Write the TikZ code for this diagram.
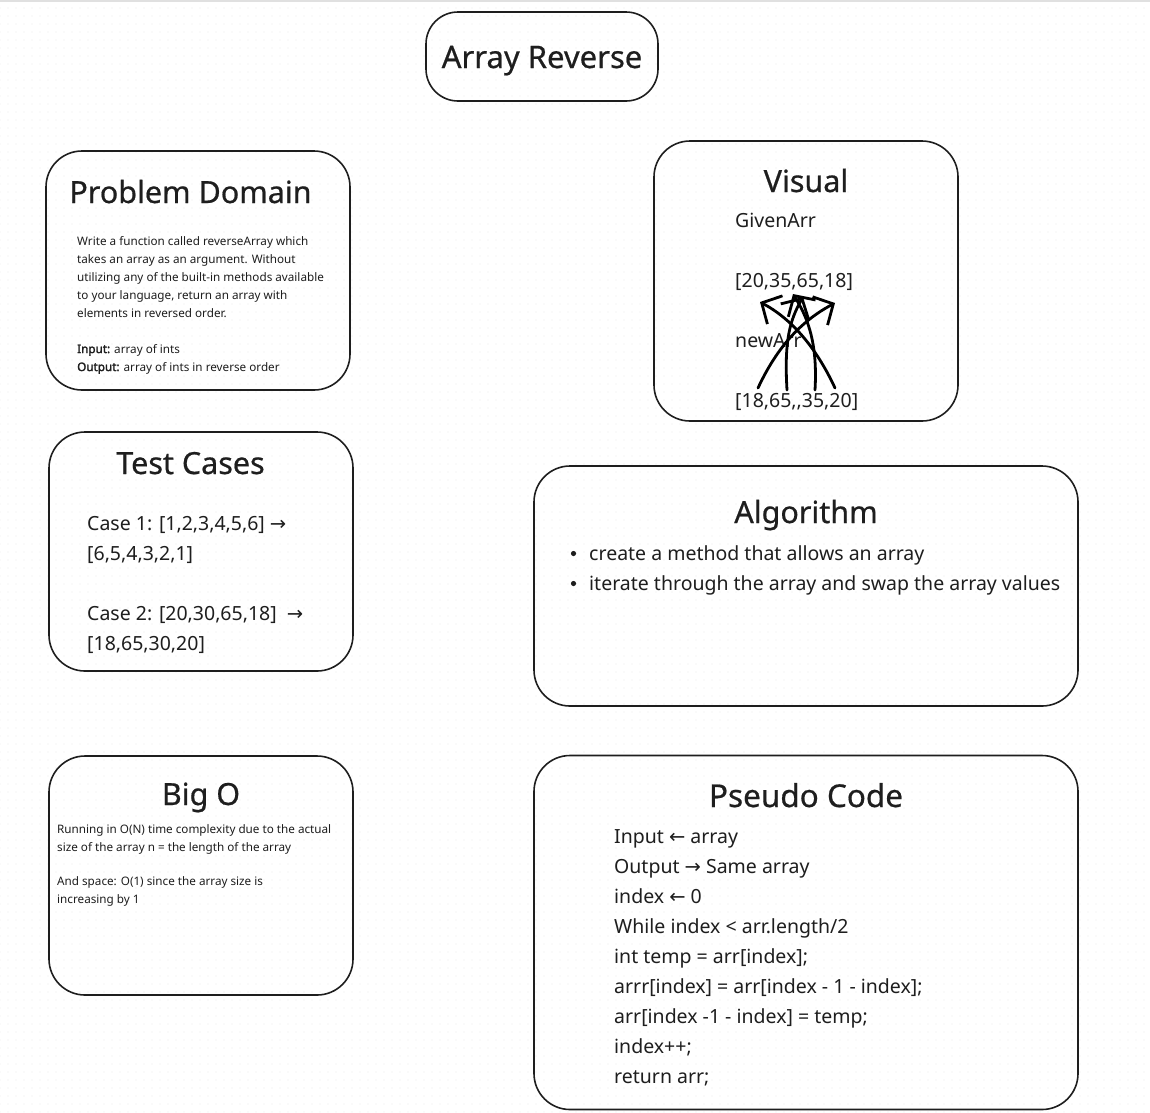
\documentclass[tikz,border=0pt]{standalone}
\usepackage{fontspec}
\setmainfont{Noto Sans}[AutoFakeBold=2.2]
\newfontfamily\arrfont{DejaVu Sans}
\usetikzlibrary{arrows.meta,patterns.meta}
\definecolor{ink}{HTML}{1E1E1E}
\newcommand{\ra}{{\arrfont\char"2192}}
\newcommand{\la}{{\arrfont\char"2190}}
\begin{document}
\begin{tikzpicture}[x=1pt,y=-1pt,
  box/.style={draw=ink, line width=1.6pt, rounded corners=36pt, inner sep=0pt, outer sep=0pt},
  ttl/.style={anchor=base, inner sep=0pt, text=ink, font=\fontsize{30.5}{36}\selectfont\addfontfeature{FakeBold=0.6}},
  bodytxt/.style={anchor=base west, inner sep=0pt, text=ink, font=\fontsize{19.5}{24}\selectfont},
  smalltxt/.style={anchor=base west, inner sep=0pt, text=ink, font=\fontsize{11.7}{14}\selectfont},
  swap/.style={draw=black, line width=2.8pt, line cap=round, -{Straight Barb[length=15pt,width=32pt,line width=2.8pt]}}
]
\useasboundingbox (0,0) rectangle (1150,1112);
\fill[white] (0,0) rectangle (1150,1112);
\fill[pattern={Dots[distance=8pt,radius=0.65pt]}, pattern color=black!7] (0,0) rectangle (1150,1112);
\draw[black!12, line width=1.5pt] (0,1) -- (1150,1);

% boxes
\node[box, rounded corners=32pt, minimum width=232pt, minimum height=89pt] (title) at (542,56.5) {};
\node[box, minimum width=304pt, minimum height=239pt] (pd) at (198,270.5) {};
\node[box, minimum width=304pt, minimum height=239pt] (tc) at (201,551.5) {};
\node[box, minimum width=304pt, minimum height=239pt] (bigo) at (201,875.5) {};
\node[box, minimum width=304pt, minimum height=280pt] (vis) at (806,281) {};
\node[box, minimum width=544pt, minimum height=240pt] (algo) at (806,586) {};
\node[box, minimum width=544pt, minimum height=354pt] (pseudo) at (806,932.5) {};

% titles
\node[ttl, font=\fontsize{31}{36}\selectfont\addfontfeature{FakeBold=0.6}] (titletext) at (542,68) {Array Reverse};
\node[ttl] (pdt) at (190.5,203) {Problem Domain};
\node[ttl] (tct) at (190.5,474) {Test Cases};
\node[ttl] (bigot) at (201,805) {Big O};
\node[ttl] (vist) at (806,192) {Visual};
\node[ttl] (algot) at (806,523) {Algorithm};
\node[ttl, font=\fontsize{31.5}{36}\selectfont\addfontfeature{FakeBold=0.6}] (pseudot) at (806,807) {Pseudo Code};

% problem domain
\node[smalltxt] (pd1) at (77,245) {Write a function called reverseArray which};
\node[smalltxt] (pd2) at (77,263) {takes an array as an argument. Without};
\node[smalltxt] (pd3) at (77,281) {utilizing any of the built-in methods available};
\node[smalltxt] (pd4) at (77,299) {to your language, return an array with};
\node[smalltxt] (pd5) at (77,317) {elements in reversed order.};
\node[smalltxt] (pd6) at (77,353) {\textbf{Input:} array of ints};
\node[smalltxt] (pd7) at (77,371) {\textbf{Output:} array of ints in reverse order};

% test cases
\node[bodytxt] (tc1) at (87,530) {Case 1: [1,2,3,4,5,6] \ra};
\node[bodytxt] (tc2) at (87,560) {[6,5,4,3,2,1]};
\node[bodytxt] (tc3) at (87,620) {Case 2: [20,30,65,18]\ \ \ra};
\node[bodytxt] (tc4) at (87,650) {[18,65,30,20]};

% big O
\node[smalltxt] (bo1) at (57,833) {Running in O(N) time complexity due to the actual};
\node[smalltxt] (bo2) at (57,851) {size of the array n = the length of the array};
\node[smalltxt] (bo3) at (57,885) {And space: O(1) since the array size is};
\node[smalltxt] (bo4) at (57,903) {increasing by 1};

% visual
\node[bodytxt] (given) at (735,227) {GivenArr};
\node[bodytxt] (garr) at (735,287) {[20,35,65,18]};
\node[bodytxt] (newa) at (735,347) {newArr};
\node[bodytxt] (narr) at (735,407) {[18,65,{},35,20]};

% algorithm
\fill[ink] (573.5,553.5) circle (2.6pt);
\fill[ink] (573.5,583.5) circle (2.6pt);
\node[bodytxt] (al1) at (589,560) {create a method that allows an array};
\node[bodytxt] (al2) at (589,590) {iterate through the array and swap the array values};

% pseudo code
\node[bodytxt] (ps1) at (614,843) {Input \la\ array};
\node[bodytxt] (ps2) at (614,873) {Output \ra\ Same array};
\node[bodytxt] (ps3) at (614,903) {index \la\ 0};
\node[bodytxt] (ps4) at (614,933) {While index < arr.length/2};
\node[bodytxt] (ps5) at (614,963) {int temp = arr[index];};
\node[bodytxt] (ps6) at (614,993) {arrr[index] = arr[index - 1 - index];};
\node[bodytxt] (ps7) at (614,1023) {arr[index -1 - index] = temp;};
\node[bodytxt] (ps8) at (614,1053) {index++;};
\node[bodytxt] (ps9) at (614,1083) {return arr;};

% swap arrows
\coordinate (s18) at (758,388);
\coordinate (s65) at (787,390);
\coordinate (s35) at (815,390);
\coordinate (s20) at (835,388);
\coordinate (t20) at (760,302);
\coordinate (t35) at (793,294);
\coordinate (t65) at (803,297);
\coordinate (t18) at (835,303);
\draw[swap] (s18) .. controls (778,345) and (803,320) .. (t18);
\draw[swap] (s20) .. controls (815,345) and (790,318) .. (t20);
\draw[swap] (s65) .. controls (784,340) and (790,320) .. (t65);
\draw[swap] (s35) .. controls (818,340) and (806,315) .. (t35);
\end{tikzpicture}
\end{document}
